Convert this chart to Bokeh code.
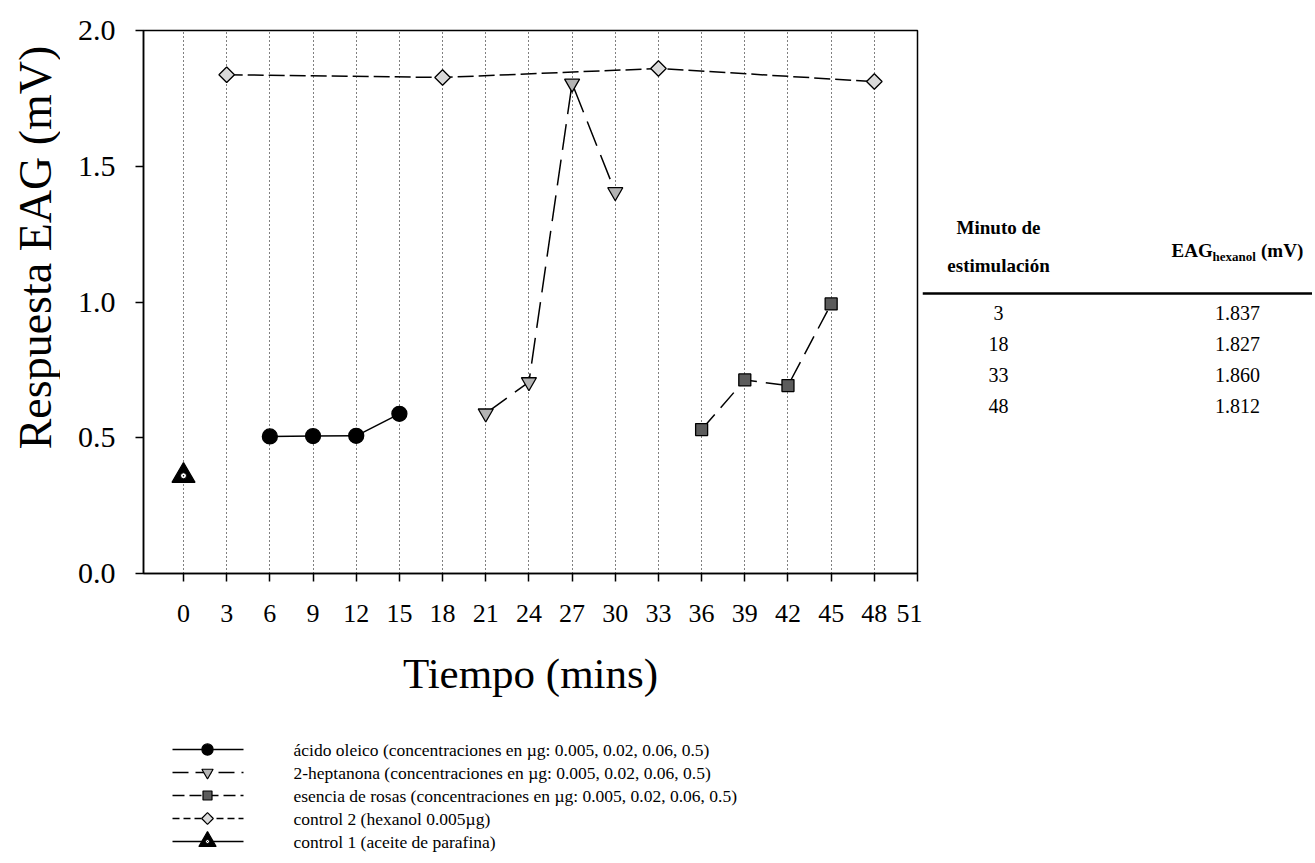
import math
from bokeh.plotting import figure
from bokeh.models import Range1d, FixedTicker, PrintfTickFormatter
from bokeh.layouts import column, row
from bokeh.embed import file_html
from bokeh.resources import INLINE
from bokeh.core.properties import value

SERIF = "Liberation Serif"

# ---------------- data ----------------
t_oleico = [6, 9, 12, 15]
eag_oleico = [0.505, 0.506, 0.507, 0.588]

t_heptanona = [21, 24, 27, 30]
eag_heptanona = [0.590, 0.705, 1.805, 1.405]

t_rosas = [36, 39, 42, 45]
eag_rosas = [0.530, 0.713, 0.692, 0.993]

t_control2 = [3, 18, 33, 48]
eag_control2 = [1.837, 1.827, 1.860, 1.812]

t_control1 = [0]
eag_control1 = [0.36]

x_ticks = list(range(0, 52, 3))
y_ticks = [0.0, 0.5, 1.0, 1.5, 2.0]

legend_labels = [
    "ácido oleico (concentraciones en µg: 0.005, 0.02, 0.06, 0.5)",
    "2-heptanona (concentraciones en µg: 0.005, 0.02, 0.06, 0.5)",
    "esencia de rosas (concentraciones en µg: 0.005, 0.02, 0.06, 0.5)",
    "control 2 (hexanol 0.005µg)",
    "control 1 (aceite de parafina)",
]

tabla_minuto = ["3", "18", "33", "48"]
tabla_eag = ["1.837", "1.827", "1.860", "1.812"]

# ---------------- styles ----------------
series = [
    dict(x=t_oleico, y=eag_oleico, marker="circle", size=15, fill="black",
         dash="solid", ldash="solid", angle=0.0),
    dict(x=t_heptanona, y=eag_heptanona, marker="inverted_triangle", size=15, fill="#b4b4b4",
         dash="26 10", ldash="16 7", angle=0.0),
    dict(x=t_rosas, y=eag_rosas, marker="square", size=12, fill="#5c5c5c",
         dash="20 9", ldash="12 5", angle=0.0),
    dict(x=t_control2, y=eag_control2, marker="square", size=11, fill="#dadada",
         dash="16 5", ldash="7 4", angle=math.pi / 4),
    dict(x=t_control1, y=eag_control1, marker="triangle", size=23, fill="black",
         dash="solid", ldash="solid", angle=0.0),
]

TOP, BOTTOM = 30, 162       # borders shared by the top row (frame spans page y 30..573)
ROW_H = 735
LEFT_W = 60


def blank(width, height, xr, yr, **kw):
    f = figure(width=width, height=height, x_range=xr, y_range=yr, output_backend="svg",
               toolbar_location=None, x_axis_location=None, y_axis_location=None, **kw)
    f.grid.visible = False
    f.outline_line_color = None
    f.background_fill_color = "white"
    f.border_fill_color = "white"
    return f


# ---------------- y-axis title (left strip) ----------------
yl = blank(LEFT_W, ROW_H, Range1d(0, LEFT_W), Range1d(573, 30),
           min_border_left=0, min_border_right=0, min_border_top=TOP, min_border_bottom=BOTTOM)
yl.text(x=[35], y=[247], text=["Respuesta EAG (mV)"], angle=math.pi / 2, text_font=value(SERIF),
        text_font_size="46px", text_align="center", text_baseline="middle", text_color="black")

# ---------------- main plot ----------------
p = figure(width=922 - LEFT_W, height=ROW_H, x_range=Range1d(-2.78, 51), y_range=Range1d(0, 2),
           output_backend="svg", toolbar_location=None,
           min_border_left=143 - LEFT_W, min_border_right=5, min_border_top=TOP, min_border_bottom=BOTTOM)
p.background_fill_color = "white"
p.border_fill_color = "white"
p.outline_line_color = "black"
p.outline_line_width = 1.5

p.xaxis.ticker = FixedTicker(ticks=x_ticks)
p.yaxis.ticker = FixedTicker(ticks=y_ticks)
p.yaxis.formatter = PrintfTickFormatter(format="%.1f")
for ax in (p.xaxis[0], p.yaxis[0]):
    ax.axis_line_width = 1.5
    ax.axis_line_color = "black"
    ax.major_tick_line_color = "black"
    ax.major_tick_line_width = 1.5
    ax.major_tick_out = 8
    ax.major_tick_in = 0
    ax.minor_tick_line_color = None
    ax.major_label_text_font = SERIF
    ax.major_label_text_color = "black"
p.xaxis.major_label_text_font_size = "26px"
p.yaxis.major_label_text_font_size = "30px"
p.xaxis.major_label_standoff = 23
p.yaxis.major_label_standoff = 20
p.xaxis.axis_label = "Tiempo (mins)"
p.xaxis.axis_label_text_font = SERIF
p.xaxis.axis_label_text_font_style = "normal"
p.xaxis.axis_label_text_font_size = "43px"
p.xaxis.axis_label_text_color = "black"
p.xaxis.axis_label_standoff = 25

p.xgrid.ticker = FixedTicker(ticks=[t for t in x_ticks if t < 51])
p.xgrid.grid_line_color = "black"
p.xgrid.grid_line_dash = "1 3"
p.xgrid.grid_line_width = 1
p.ygrid.visible = False

for s in series:
    if len(s["x"]) > 1:
        p.line(s["x"], s["y"], line_color="black", line_width=1.5, line_dash=s["dash"])
    p.scatter(s["x"], s["y"], marker=s["marker"], size=s["size"], fill_color=s["fill"],
              line_color="black", line_width=1.3, angle=s["angle"])
p.scatter(t_control1, eag_control1, marker="circle_dot", size=6, fill_color="white",
          line_color="black", line_width=1)

# ---------------- table (right) ----------------
TW = 390
tf = blank(TW, ROW_H, Range1d(922, 922 + TW), Range1d(573, 30),
           min_border_left=0, min_border_right=0, min_border_top=TOP, min_border_bottom=BOTTOM)
tf.text(x=[998, 998], y=[227, 265], text=["Minuto de", "estimulación"], text_font=value(SERIF),
        text_font_style="bold", text_font_size="19px", text_align="center", text_baseline="middle",
        text_color="black")
hx = 1171
tf.text(x=[hx], y=[250], text=["EAG"], text_font=value(SERIF), text_font_style="bold",
        text_font_size="19px", text_align="left", text_baseline="middle", text_color="black")
tf.text(x=[hx + 41], y=[256], text=["hexanol"], text_font=value(SERIF), text_font_style="bold",
        text_font_size="13px", text_align="left", text_baseline="middle", text_color="black")
tf.text(x=[hx + 89.5], y=[250], text=["(mV)"], text_font=value(SERIF), text_font_style="bold",
        text_font_size="19px", text_align="left", text_baseline="middle", text_color="black")
tf.segment(x0=[922], y0=[293], x1=[922 + TW], y1=[293], line_color="black", line_width=2.5)
row_y = [312 + 31 * i for i in range(len(tabla_minuto))]
tf.text(x=[998] * len(tabla_minuto), y=row_y, text=tabla_minuto, text_font=value(SERIF),
        text_font_size="20px", text_align="center", text_baseline="middle", text_color="black")
tf.text(x=[1237] * len(tabla_eag), y=row_y, text=tabla_eag, text_font=value(SERIF),
        text_font_size="20px", text_align="center", text_baseline="middle", text_color="black")

# ---------------- legend (below) ----------------
LH = 120
lf = blank(922 + TW, LH, Range1d(0, 922 + TW), Range1d(ROW_H + LH, ROW_H), min_border=0)
for i, s in enumerate(series):
    yy = 749 + 23 * i
    lf.line([172, 243], [yy, yy], line_color="black", line_width=1.3, line_dash=s["ldash"])
    lf.scatter([207], [yy], marker=s["marker"], size=s["size"] * 0.75, fill_color=s["fill"],
               line_color="black", line_width=1.2, angle=s["angle"])
    if i == 4:
        lf.scatter([207], [yy], marker="circle_dot", size=4, fill_color="white",
                   line_color="black", line_width=1)
    lf.text(x=[293], y=[yy], text=[legend_labels[i]], text_font=value(SERIF), text_font_size="17.5px",
            text_align="left", text_baseline="middle", text_color="black")

layout = column(row(yl, p, tf), lf)
open("out.html", "w").write(file_html(layout, INLINE))
